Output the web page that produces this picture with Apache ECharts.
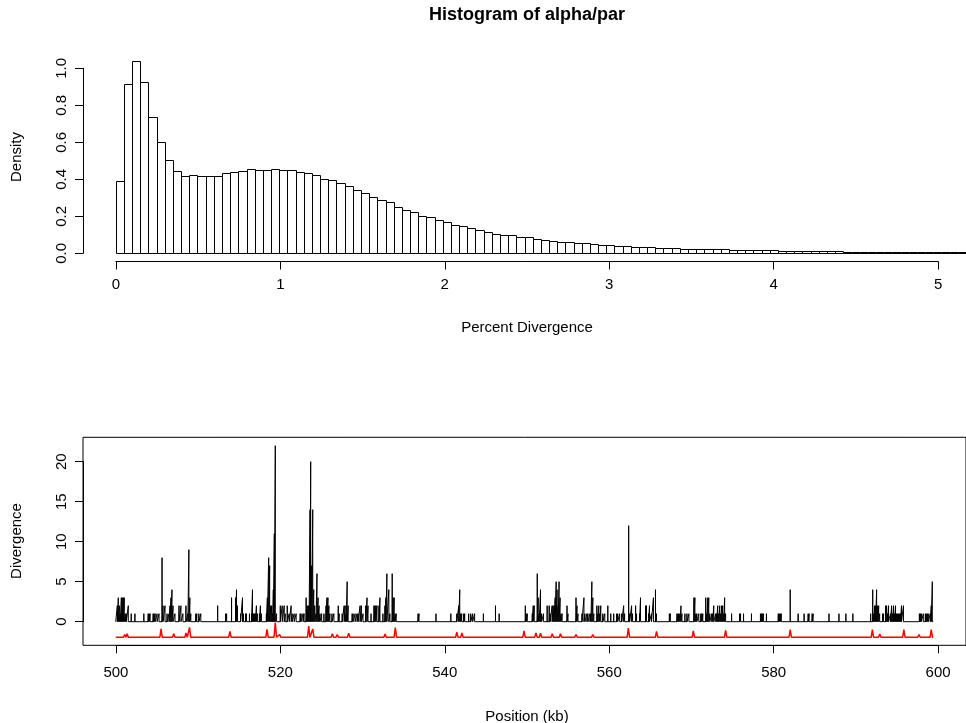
<!DOCTYPE html>
<html><head><meta charset="utf-8">
<script src="https://cdn.jsdelivr.net/npm/echarts@6/dist/echarts.min.js"></script>
<style>html,body{margin:0;padding:0;background:#fff}#c{width:966px;height:723px}</style>
</head><body><div id="c"></div>
<script>
// ---------- Histogram data (bin width 0.05 starting at 0) ----------
const binStart = 0;
const binWidth = 0.05;
const densities = [
  0.387,0.915,1.036,0.922,0.735,0.598,0.505,0.441,0.416,0.420,
  0.416,0.418,0.418,0.431,0.436,0.441,0.456,0.447,0.447,0.456,
  0.447,0.449,0.436,0.432,0.420,0.400,0.395,0.381,0.362,0.341,
  0.323,0.301,0.288,0.274,0.247,0.234,0.222,0.202,0.193,0.180,
  0.166,0.150,0.144,0.133,0.123,0.114,0.105,0.095,0.095,0.086,
  0.085,0.076,0.072,0.067,0.061,0.058,0.052,0.052,0.047,0.045,
  0.041,0.040,0.036,0.034,0.032,0.031,0.029,0.026,0.025,0.024,
  0.023,0.022,0.021,0.020,0.019,0.018,0.017,0.017,0.016,0.015,
  0.014,0.013,0.013,0.012,0.011,0.010,0.010,0.009,0.009,0.008,
  0.007,0.007,0.006,0.006,0.006,0.005,0.005,0.005,0.004,0.004,
  0.004,0.004,0.003,0.003
];
const histXTicks = [0,1,2,3,4,5];
const histYTicks = [0,0.2,0.4,0.6,0.8,1.0];

// ---------- Divergence along position (kb, value) ----------
const spikes = [
 [500.20,2],[500.32,3],[500.45,2],[500.57,1],[500.69,3],[500.81,3],[500.93,3],[501.05,3],[501.17,1],[501.30,1],
 [501.54,2],[501.90,1],[502.35,1],[503.44,1],[503.97,1],[504.09,1],[504.21,1],[504.58,1],[504.70,1],[504.82,1],
 [505.06,1],[505.30,1],[505.67,8],[505.79,2],[506.03,2],[506.28,1],[506.52,1],[506.64,2],[506.76,3],[506.88,4],
 [507.01,2],[507.25,1],[507.74,2],[507.98,2],[508.22,1],[508.59,2],[508.83,1],[508.95,9],[509.07,3],[509.19,1],
 [509.80,1],[509.92,1],[510.17,1],[510.41,1],[512.47,2],[513.45,1],[513.57,1],[514.17,3],[514.66,3],[514.78,4],
 [514.90,2],[515.27,1],[515.51,3],[515.63,1],[515.88,1],[516.00,1],[516.36,1],[516.61,1],[516.73,4],[516.85,1],
 [516.97,1],[517.09,1],[517.21,2],[517.33,1],[517.58,1],[517.70,2],[517.82,1],[518.43,1],[518.55,3],[518.71,8],
 [518.83,7],[518.95,2],[519.08,2],[519.20,1],[519.28,4],[519.40,11],[519.52,22],[519.68,1],[520.13,2],[520.37,2],
 [520.61,2],[520.73,1],[520.98,2],[521.22,1],[521.46,2],[521.59,1],[521.83,1],[522.07,1],[522.56,1],[522.68,1],
 [522.92,1],[523.04,1],[523.29,3],[523.41,2],[523.53,2],[523.65,2],[523.77,14],[523.85,20],[523.98,7],[524.10,14],
 [524.22,4],[524.34,2],[524.50,1],[524.62,6],[524.75,3],[524.87,2],[524.99,1],[525.19,1],[525.47,1],[525.72,2],
 [525.84,3],[525.96,3],[526.08,2],[526.20,1],[526.45,1],[526.69,1],[527.22,2],[527.34,1],[527.70,1],[527.94,2],
 [528.07,2],[528.19,1],[528.31,5],[528.43,2],[528.92,1],[529.04,1],[529.28,1],[529.52,1],[529.65,1],[529.89,2],
 [530.05,2],[530.25,1],[530.58,2],[530.74,3],[530.86,2],[531.23,1],[531.59,2],[531.71,2],[531.83,2],[531.95,2],
 [532.20,2],[532.32,3],[532.68,1],[532.93,2],[533.05,3],[533.17,6],[533.41,4],[533.54,1],[533.82,6],[533.94,3],
 [534.06,3],[534.18,1],[534.31,1],[536.98,1],[537.10,1],[539.17,1],[540.99,1],[541.72,1],[541.96,2],[542.08,4],
 [542.20,1],[542.32,1],[542.57,1],[542.69,1],[543.17,1],[543.42,1],[543.66,1],[543.90,1],[544.97,1],[546.45,2],
 [546.90,1],[550.10,2],[550.22,1],[550.34,1],[550.95,1],[551.07,2],[551.19,2],[551.56,6],[551.68,3],[551.80,1],
 [551.96,4],[552.09,1],[552.33,1],[552.77,2],[553.02,2],[553.14,1],[553.38,2],[553.50,2],[553.62,2],[553.75,3],
 [553.87,5],[553.99,4],[554.11,2],[554.23,5],[554.35,3],[554.47,1],[554.60,1],[555.20,2],[555.32,1],[556.30,3],
 [556.42,2],[556.54,1],[557.03,1],[557.27,3],[557.39,1],[557.63,1],[557.76,1],[558.00,1],[558.12,1],[558.24,5],
 [558.36,3],[558.48,1],[558.85,2],[558.97,1],[559.09,2],[559.21,1],[559.33,2],[559.58,1],[559.82,1],[560.19,2],
 [560.55,1],[560.91,1],[561.28,1],[561.40,1],[561.64,1],[561.89,1],[562.13,2],[562.25,1],[562.74,12],[562.86,1],
 [563.10,2],[563.22,1],[563.59,2],[563.71,1],[564.07,1],[564.19,3],[564.80,2],[564.92,2],[565.17,1],[565.29,2],
 [565.53,1],[565.77,3],[566.02,4],[566.14,1],[567.72,1],[567.84,1],[568.65,1],[568.77,1],[568.89,1],[569.02,1],
 [569.14,2],[569.26,1],[569.62,1],[569.87,1],[570.11,1],[570.72,3],[570.84,3],[570.96,1],[571.08,1],[571.32,1],
 [571.57,1],[571.69,1],[571.81,1],[572.17,3],[572.30,1],[572.42,3],[572.54,3],[572.66,1],[572.90,1],[573.03,1],
 [573.15,2],[573.39,1],[573.51,1],[573.63,2],[573.75,1],[573.88,2],[574.00,1],[574.12,2],[574.24,2],[574.36,1],
 [574.48,3],[574.60,1],[575.33,1],[576.31,1],[576.43,1],[576.79,1],[577.76,1],[578.86,1],[578.98,1],[579.10,1],
 [579.22,1],[579.59,1],[581.04,1],[581.16,1],[581.29,1],[581.41,1],[582.50,4],[583.47,1],[584.20,1],[584.69,1],
 [584.81,1],[585.18,1],[585.30,1],[587.24,1],[588.46,1],[589.31,1],[590.16,1],[592.34,1],[592.59,4],[592.71,1],
 [592.83,2],[592.95,2],[593.07,4],[593.19,2],[593.32,2],[593.44,1],[593.80,1],[593.92,1],[594.17,2],[594.29,2],
 [594.41,1],[594.53,2],[594.77,1],[594.90,2],[595.02,1],[595.14,2],[595.26,1],[595.38,2],[595.50,1],[595.62,1],
 [595.75,1],[595.87,1],[595.99,1],[596.11,2],[596.35,2],[598.30,1],[598.42,1],[598.54,1],[598.78,1],[599.03,1],
 [599.15,1],[599.27,1],[599.39,1],[599.63,1],[599.75,2],[599.88,5]
];
const posStart = 500, posEnd = 600;
const redBase = -1.95;
const redPeaks = [
 [501.1,-1.6],[501.4,-1.5],[505.55,-0.9],[507.1,-1.5],[508.6,-1.4],[509.03,-0.7],[510.3,-1.7],[512.4,-1.75],
 [513.97,-1.2],[516.6,-1.7],[518.51,-0.95],[519.52,-0.1],[520.05,-1.6],[523.61,-0.55],[524.1,-0.9],[526.5,-1.5],
 [527.1,-1.6],[528.5,-1.45],[531.5,-1.75],[532.95,-1.55],[534.2,-0.75],[537.0,-1.75],[541.72,-1.3],[542.35,-1.4],
 [546.4,-1.7],[549.94,-1.15],[551.4,-1.4],[551.96,-1.45],[553.4,-1.5],[554.4,-1.5],[556.3,-1.6],[558.35,-1.6],
 [560.2,-1.75],[562.7,-0.8],[564.2,-1.7],[566.15,-1.2],[568.9,-1.75],[570.65,-1.15],[572.4,-1.7],[574.6,-1.1],
 [577.8,-1.8],[580.8,-1.8],[582.5,-1.0],[585.2,-1.8],[592.55,-1.0],[593.45,-1.55],[595.2,-1.7],[596.4,-1.0],
 [598.25,-1.6],[599.75,-1.0]
];
const posXTicks = [500,520,540,560,580,600];
const divYTicks = [0,5,10,15,20];

// ---------- build series data ----------
const histData = densities.map((d,i)=>[binStart+i*binWidth, binStart+(i+1)*binWidth, d]);
const blackLine = [[posStart,0]];
spikes.forEach(([p,v])=>{ blackLine.push([p,0],[p,v],[p,0]); });
blackLine.push([posEnd,0]);
const redLine = [[posStart,redBase]];
redPeaks.forEach(([p,v])=>{ redLine.push([p-0.15,redBase],[p,v],[p+0.15,redBase]); });
redLine.push([posEnd,redBase]);

const FONT = '"Liberation Sans", Arial, Helvetica, sans-serif';
const FS = 15;
const visAxis = (extra)=>Object.assign({
  type:'value',
  axisLine:{show:true,lineStyle:{color:'#000',width:1}},
  axisTick:{show:true,length:8,lineStyle:{color:'#000',width:1}},
  splitLine:{show:false},
  axisLabel:{color:'#000',fontFamily:FONT,fontSize:FS}
}, extra);

const chart = echarts.init(document.getElementById('c'));
chart.setOption({
  animation:false,
  backgroundColor:'#fff',
  grid:[
    {left:83, top:54, width:888, height:207.5},
    {left:115.9, top:250, width:822.2, height:11.5},
    {left:83, top:68.3, width:20, height:185},
    {left:83, top:437.3, width:888, height:208, show:true, borderColor:'#000', borderWidth:1, backgroundColor:'transparent'},
    {left:115.9, top:630, width:822.2, height:15.3},
    {left:83, top:461.7, width:20, height:160}
  ],
  xAxis:[
    {type:'value', gridIndex:0, min:-0.2, max:5.2, show:false},
    visAxis({gridIndex:1, min:histXTicks[0], max:histXTicks[histXTicks.length-1], interval:1, position:'bottom',
      axisLabel:{color:'#000',fontFamily:FONT,fontSize:FS,margin:16}}),
    {type:'value', gridIndex:2, show:false},
    {type:'value', gridIndex:3, min:496, max:604, show:false},
    visAxis({gridIndex:4, min:posXTicks[0], max:posXTicks[posXTicks.length-1], interval:20, position:'bottom',
      axisLabel:{color:'#000',fontFamily:FONT,fontSize:FS,margin:20}}),
    {type:'value', gridIndex:5, show:false}
  ],
  yAxis:[
    {type:'value', gridIndex:0, min:-0.0443, max:1.0773, show:false},
    {type:'value', gridIndex:1, show:false},
    visAxis({gridIndex:2, min:histYTicks[0], max:histYTicks[histYTicks.length-1], interval:0.2, position:'left',
      axisLabel:{color:'#000',fontFamily:FONT,fontSize:FS,rotate:90,margin:14,formatter:v=>v.toFixed(1)}}),
    {type:'value', gridIndex:3, min:-2.95, max:23.05, show:false},
    {type:'value', gridIndex:4, show:false},
    visAxis({gridIndex:5, min:divYTicks[0], max:divYTicks[divYTicks.length-1], interval:5, position:'left',
      axisLabel:{color:'#000',fontFamily:FONT,fontSize:FS,rotate:90,margin:14}})
  ],
  series:[
    {
      type:'custom', xAxisIndex:0, yAxisIndex:0, clip:true,
      data:histData, encode:{x:[0,1], y:2},
      renderItem:function(params, api){
        const p0 = api.coord([api.value(0), 0]);
        const p1 = api.coord([api.value(1), api.value(2)]);
        const x0 = Math.round(p0[0]), x1 = Math.round(p1[0]);
        const yb = Math.round(p0[1]);
        const h = Math.max(1, Math.round(p0[1]-p1[1]));
        return {type:'rect',
          shape:{x:x0+0.5, y:yb-h+0.5, width:x1-x0, height:h},
          style:{fill:'#fff', stroke:'#000', lineWidth:1}};
      }
    },
    {
      type:'line', xAxisIndex:3, yAxisIndex:3, data:blackLine, showSymbol:false, symbol:'none',
      lineStyle:{color:'#000', width:1}, z:3
    },
    {
      type:'line', xAxisIndex:3, yAxisIndex:3, data:redLine, showSymbol:false, symbol:'none',
      lineStyle:{color:'#ff0000', width:1.5}, z:2
    }
  ],
  graphic:[
    {type:'text', x:527, y:15, style:{text:'Histogram of alpha/par', font:'bold 18px '+FONT, fill:'#000', align:'center', verticalAlign:'middle'}},
    {type:'text', x:527, y:328, style:{text:'Percent Divergence', font:FS+'px '+FONT, fill:'#000', align:'center', verticalAlign:'middle'}},
    {type:'text', x:17, y:157, rotation:Math.PI/2, style:{text:'Density', font:FS+'px '+FONT, fill:'#000', align:'center', verticalAlign:'middle'}},
    {type:'text', x:527, y:717, style:{text:'Position (kb)', font:FS+'px '+FONT, fill:'#000', align:'center', verticalAlign:'middle'}},
    {type:'text', x:17, y:541, rotation:Math.PI/2, style:{text:'Divergence', font:FS+'px '+FONT, fill:'#000', align:'center', verticalAlign:'middle'}}
  ]
});
</script>
</body></html>
